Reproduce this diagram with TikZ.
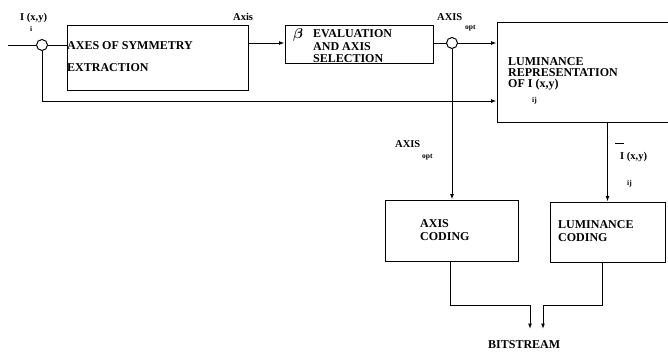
\documentclass[tikz,border=0pt]{standalone}
\usepackage{amsmath}
\usepackage{bm}
\usepackage{fontspec}
\setmainfont{Liberation Serif}
\usetikzlibrary{arrows.meta}
\tikzset{
  blk/.style={draw, line width=1pt, inner sep=0pt, minimum width=#1},
  lbl/.style={anchor=base west, inner sep=0pt, font=\fontsize{12}{12}\selectfont\bfseries},
  small/.style={anchor=base west, inner sep=0pt, font=\fontsize{10.5}{11}\selectfont\bfseries},
  tiny/.style={anchor=base west, inner sep=0pt, font=\fontsize{7.5}{8}\selectfont\bfseries},
  wire/.style={line width=1pt},
  arr/.style={line width=1pt, -{Latex[length=5.5pt,width=4pt]}},
  junc/.style={draw, circle, line width=1pt, minimum size=11pt, inner sep=0pt, fill=white}
}
\begin{document}
\begin{tikzpicture}[x=1pt,y=-1pt]
\clip (0,0) rectangle (668,356);
\fill[white] (0,0) rectangle (668,356);
% boxes
\node[blk=181pt, minimum height=65pt] (ext) at (157.5,57.5) {};
\node[blk=148pt, minimum height=38pt] (eval) at (359,44) {};
\node[blk=210pt, minimum height=100pt] (lum) at (602,72) {};
\node[blk=133pt, minimum height=61pt] (axc) at (451.5,230.5) {};
\node[blk=115pt, minimum height=60pt] (lumc) at (607.5,232) {};
% junctions
\coordinate (in) at (8,45);
\node[junc] (j1) at (42,45) {};
\node[junc] (j2) at (452,43) {};
\coordinate (b1) at (530,329);
\coordinate (b2) at (543,329);
% connectors
\draw[wire] (in) -- (j1);
\draw[wire] (j1) -- (ext.west |- j1);
\draw[arr] (ext.east |- 0,43) -- (eval.west |- 0,43);
\draw[wire] (eval.east |- j2) -- (j2);
\draw[arr] (j2) -- (lum.west |- j2);
\draw[arr] (j1.south) |- (lum.west |- 0,101);
\draw[arr] (j2.south) -- (axc.north -| j2);
\draw[arr] (lum.south -| lumc.north) -- (lumc.north);
\draw[arr] (axc.south -| 450,0) |- (530,305) -- (b1);
\draw[arr] (lumc.south -| 602,0) |- (543,305) -- (b2);
% texts
\node[lbl] (t1) at (67,49) {AXES OF SYMMETRY};
\node[lbl] (t2) at (67,71) {EXTRACTION};
\node[anchor=base west, inner sep=0pt, font=\fontsize{15}{15}\selectfont] (beta) at (293,38) {$\bm{\beta}$};
\node[lbl] (t3) at (313,37) {EVALUATION};
\node[lbl] (t4) at (313,50) {AND AXIS};
\node[lbl] (t5) at (313,62) {SELECTION};
\node[lbl] (t6) at (508,65) {LUMINANCE};
\node[lbl] (t7) at (508,76) {REPRESENTATION};
\node[lbl] (t8) at (508,87) {OF I (x,y)};
\node[tiny] (t9) at (532,102) {ij};
\node[lbl] (t10) at (420,227) {AXIS};
\node[lbl] (t11) at (420,240) {CODING};
\node[lbl] (t12) at (558,228) {LUMINANCE};
\node[lbl] (t13) at (558,241) {CODING};
\node[lbl] (t14) at (488,348) {BITSTREAM};
\node[small] (t15) at (20,20) {I (x,y)};
\node[tiny] (t16) at (30,31) {i};
\node[small] (t17) at (233,20) {Axis};
\node[small] (t18) at (437,20) {AXIS};
\node[tiny] (t19) at (465,29) {opt};
\node[small] (t20) at (395,147) {AXIS};
\node[tiny] (t21) at (422,158) {opt};
\draw[line width=1pt] (615,143) -- (624,143);
\node[small] (t22) at (620,159) {I (x,y)};
\node[tiny] (t23) at (627,185) {ij};
\end{tikzpicture}
\end{document}
